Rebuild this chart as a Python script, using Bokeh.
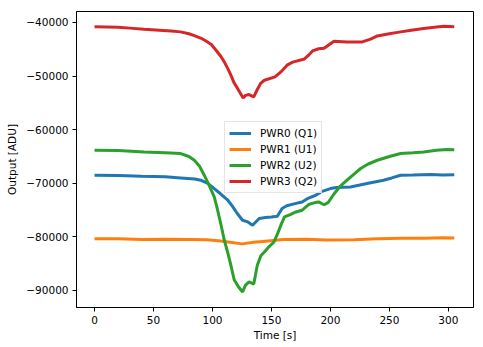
from bokeh.plotting import figure
from bokeh.models import Range1d, FixedTicker, Legend, LegendItem
from bokeh.embed import file_html
from bokeh.resources import INLINE

# PWR0 (Q1)
t0 = [0, 20, 40, 60, 73, 85, 90, 96, 101.5, 107, 113, 117, 121, 125.5, 130, 134, 139.6, 145,
      150, 155, 159, 163, 170, 176, 181, 187.6, 193, 200, 205, 217, 231, 245, 252, 259.5, 270,
      285, 295, 305]
v0 = [-68500, -68550, -68700, -68800, -69000, -69200, -69430, -70000, -70980, -72000, -73160,
      -74300, -75640, -76890, -77210, -77820, -76570, -76390, -76300, -76150, -74700, -74200,
      -73800, -73480, -72800, -72230, -71500, -70980, -70800, -70680, -70050, -69430, -69000,
      -68490, -68450, -68370, -68450, -68400]

# PWR1 (U1)
t1 = [0, 20, 40, 60, 80, 95, 105, 115, 125, 135, 145, 160, 180, 196, 220, 240, 260, 280, 295, 305]
v1 = [-80350, -80350, -80500, -80450, -80500, -80550, -80700, -81000, -81300, -81000, -80800,
      -80500, -80450, -80600, -80550, -80350, -80250, -80250, -80150, -80200]

# PWR2 (U2)
t2 = [0, 20, 42, 60, 73, 80, 84.6, 89, 93, 97, 101.5, 104, 107, 110, 113, 115.6, 118.4, 122,
      125.5, 128, 131, 135, 138, 141, 144, 148, 152, 155, 158, 161, 166.4, 170, 176, 182, 187,
      190, 194.6, 198, 203, 208, 214, 220, 225.6, 232, 239.8, 250, 259.5, 270, 279, 290, 299, 305]
v2 = [-63830, -63900, -64140, -64300, -64450, -65000, -65700, -66800, -68490, -70300, -72540,
      -74700, -77510, -80620, -83000, -85300, -88000, -89300, -90270, -89000, -88400, -88800,
      -85300, -83500, -82800, -81800, -81000, -79500, -77800, -76270, -75800, -75400, -75020,
      -73900, -73600, -73480, -74000, -73600, -72000, -70600, -69430, -68300, -67240, -66400,
      -65700, -65000, -64450, -64300, -64140, -63850, -63700, -63750]

# PWR3 (Q2)
t3 = [0, 10, 20, 30, 42, 55, 65, 73, 80, 84, 90, 94.5, 99, 103, 107, 110, 113, 115.6, 118.4,
      121, 123, 126, 128, 131, 135, 138, 141, 144, 148, 153, 158, 163.6, 168, 178, 181, 184.8,
      190, 194.6, 203, 214, 227, 234, 239.8, 250, 259.5, 270, 279, 288, 296, 305]
v3 = [-40800, -40850, -40900, -41050, -41250, -41450, -41600, -41750, -42100, -42400, -42900,
      -43450, -44100, -45170, -46300, -47350, -48600, -49830, -51300, -52200, -52950, -54070,
      -53600, -53440, -53880, -52500, -51300, -50770, -50500, -50150, -49220, -47900, -47400,
      -46800, -46200, -45300, -44900, -44800, -43500, -43620, -43620, -43100, -42500, -42100,
      -41750, -41400, -41120, -40900, -40690, -40800]

names = ["PWR0 (Q1)", "PWR1 (U1)", "PWR2 (U2)", "PWR3 (Q2)"]
colors = ["#1f77b4", "#ff7f0e", "#2ca02c", "#d62728"]

x_ticks = [0, 50, 100, 150, 200, 250, 300]
y_ticks = [-90000, -80000, -70000, -60000, -50000, -40000]
y_tick_labels = ["\u221290000", "\u221280000", "\u221270000", "\u221260000", "\u221250000", "\u221240000"]

FONT = "DejaVu Sans"
FS = "10.5px"

p = figure(width=483, height=347, output_backend="svg", toolbar_location=None,
           x_range=Range1d(-15.3, 321.3), y_range=Range1d(-93172, -37948),
           min_border_left=76, min_border_right=10, min_border_top=11, min_border_bottom=40)
p.frame_width = 397
p.frame_height = 296
p.background_fill_color = "white"
p.border_fill_color = "white"
p.outline_line_color = "black"
p.outline_line_width = 1
p.xgrid.visible = False
p.ygrid.visible = False

renderers = []
for t, v, c in zip([t0, t1, t2, t3], [v0, v1, v2, v3], colors):
    r = p.line(t, v, line_color=c, line_width=3)
    renderers.append(r)

p.xaxis.ticker = FixedTicker(ticks=x_ticks)
p.yaxis.ticker = FixedTicker(ticks=y_ticks)
p.yaxis.major_label_overrides = {k: s for k, s in zip(y_ticks, y_tick_labels)}
for ax in (p.xaxis[0], p.yaxis[0]):
    ax.major_tick_in = 0
    ax.major_tick_out = 4
    ax.minor_tick_line_color = None
    ax.axis_line_color = "black"
    ax.major_tick_line_color = "black"
    ax.major_label_text_font = FONT
    ax.major_label_text_font_size = FS
    ax.major_label_text_color = "black"
    ax.major_label_standoff = 4
    ax.axis_label_text_font = FONT
    ax.axis_label_text_font_size = FS
    ax.axis_label_text_font_style = "normal"
    ax.axis_label_text_color = "black"
    ax.axis_label_standoff = 5
p.xaxis[0].axis_label_standoff = 2
p.xaxis.axis_label = "Time [s]"
p.yaxis.axis_label = "Output [ADU]"

legend = Legend(items=[LegendItem(label=n, renderers=[r]) for n, r in zip(names, renderers)],
                location=(148, 114))
legend.label_text_font = FONT
legend.label_text_font_size = FS
legend.label_text_color = "black"
legend.glyph_width = 22
legend.glyph_height = 14
legend.label_height = 14
legend.label_standoff = 9
legend.spacing = 2
legend.padding = 4
legend.margin = 0
legend.border_line_color = "#cccccc"
legend.border_line_width = 1
legend.background_fill_color = "white"
legend.background_fill_alpha = 0.8
p.add_layout(legend)

open("out.html", "w").write(file_html(p, INLINE))
